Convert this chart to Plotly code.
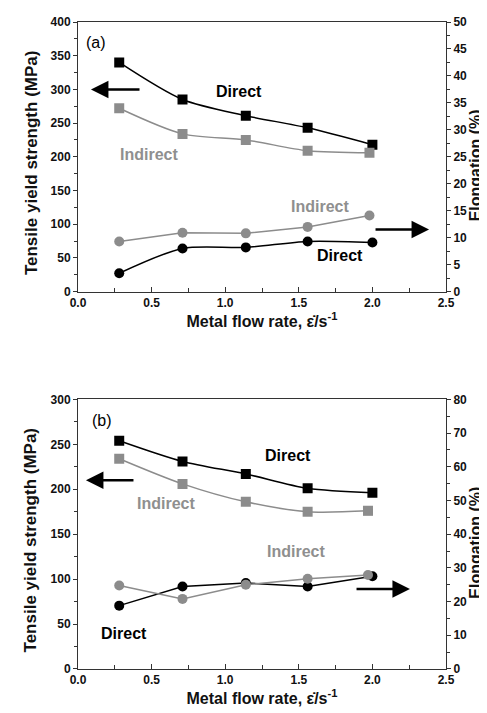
import plotly.graph_objects as go

# ---------------- data ----------------
# panel (a)
a_x_direct = [0.28, 0.71, 1.14, 1.56, 2.00]
a_x_indirect = [0.28, 0.71, 1.14, 1.56, 1.98]
a_ys_direct = [340, 285, 261, 243, 218]
a_ys_indirect = [272, 234, 225, 209, 206]
a_el_direct = [3.4, 8.0, 8.2, 9.3, 9.1]
a_el_indirect = [9.3, 10.9, 10.8, 12.0, 14.1]

# panel (b)
b_x_direct = [0.28, 0.71, 1.14, 1.56, 2.00]
b_x_indirect = [0.28, 0.71, 1.14, 1.56, 1.97]
b_ys_direct = [254, 231, 217, 201, 196]
b_ys_indirect = [234, 206, 186, 175, 176]
b_el_direct = [18.8, 24.5, 25.5, 24.5, 27.5]
b_el_indirect = [24.8, 20.8, 25.0, 26.8, 27.9]

x_ticks = [0.0, 0.5, 1.0, 1.5, 2.0, 2.5]
x_tick_labels = ["0.0", "0.5", "1.0", "1.5", "2.0", "2.5"]

BLACK = "#000000"
GRAY = "#8c8c8c"
AXC = "#333333"
FAM = "Liberation Sans, Arial, sans-serif"
TICKFONT = dict(family=FAM, size=12, color="#111111", weight="bold")
YTITLEFONT = dict(family=FAM, size=17, color="#111111", weight="bold")
RTITLEFONT = dict(family=FAM, size=16, color="#111111", weight="bold")
XTITLEFONT = dict(family=FAM, size=16, color="#111111", weight="bold")
LBLFONT_B = dict(family=FAM, size=16, color=BLACK, weight="bold")
LBLFONT_G = dict(family=FAM, size=16, color="#8f8f8f", weight="bold")

fig = go.Figure()


def add_series(x, y, xa, ya, symbol, color, shape):
    fig.add_trace(go.Scatter(
        x=x, y=y, xaxis=xa, yaxis=ya, mode="lines+markers",
        line=dict(color=color, width=1.5, shape=shape, smoothing=0.8),
        marker=dict(symbol=symbol, size=10, color=color, line=dict(width=0)),
        showlegend=False, hoverinfo="x+y"))


# panel (a)
add_series(a_x_direct, a_ys_direct, "x", "y", "square", BLACK, "spline")
add_series(a_x_indirect, a_ys_indirect, "x", "y", "square", GRAY, "spline")
add_series(a_x_direct, a_el_direct, "x", "y2", "circle", BLACK, "spline")
add_series(a_x_indirect, a_el_indirect, "x", "y2", "circle", GRAY, "linear")
# panel (b)
add_series(b_x_direct, b_ys_direct, "x2", "y3", "square", BLACK, "spline")
add_series(b_x_indirect, b_ys_indirect, "x2", "y3", "square", GRAY, "spline")
add_series(b_x_direct, b_el_direct, "x2", "y4", "circle", BLACK, "linear")
add_series(b_x_indirect, b_el_indirect, "x2", "y4", "circle", GRAY, "linear")

xtitle = "Metal flow rate, \u03b5\u0307/s<sup>-1</sup>"


def xaxis_cfg(anchor):
    return dict(range=[0, 2.5], tickvals=x_ticks, ticktext=x_tick_labels, anchor=anchor,
                showline=True, linecolor=AXC, linewidth=1, mirror=True,
                ticks="inside", ticklen=5, tickcolor=AXC,
                minor=dict(ticks="inside", ticklen=4, dtick=0.25, tickcolor=AXC),
                showgrid=False, zeroline=False, tickfont=TICKFONT, automargin=False,
                title=dict(text=xtitle, font=XTITLEFONT, standoff=6))


def yleft_cfg(rng, dt, mdt, domain, anchor):
    return dict(range=rng, dtick=dt, domain=domain, anchor=anchor,
                showline=True, linecolor=AXC, linewidth=1,
                ticks="outside", ticklen=4, tickcolor=AXC,
                minor=dict(ticks="outside", ticklen=3, dtick=mdt, tickcolor=AXC),
                showgrid=False, zeroline=False, tickfont=TICKFONT, automargin=False)


def yright_cfg(rng, dt, mdt, overlay, anchor):
    return dict(range=rng, dtick=dt, overlaying=overlay, side="right", anchor=anchor,
                showline=True, linecolor=AXC, linewidth=1,
                ticks="outside", ticklen=4, tickcolor=AXC,
                minor=dict(ticks="outside", ticklen=3, dtick=mdt, tickcolor=AXC),
                showgrid=False, zeroline=False, tickfont=TICKFONT, automargin=False)


fig.update_layout(
    width=487, height=713,
    margin=dict(l=70, r=49, t=14, b=52, autoexpand=False),
    paper_bgcolor="white", plot_bgcolor="white",
    xaxis=xaxis_cfg("y"),
    xaxis2=xaxis_cfg("y3"),
    yaxis=yleft_cfg([0, 400], 50, 25, [0.5833, 1.0], "x"),
    yaxis2=yright_cfg([0, 50], 5, 2.5, "y", "x"),
    yaxis3=yleft_cfg([0, 300], 50, 25, [0.0, 0.4167], "x2"),
    yaxis4=yright_cfg([0, 80], 10, 5, "y3", "x2"),
)

annots = []


def label(text, x, y, xr, yr, font, angle=0):
    annots.append(dict(text=text, x=x, y=y, xref=xr, yref=yr, showarrow=False,
                       font=font, xanchor="center", yanchor="middle", textangle=angle))


def arrow(x0, x1, y, xr, yr):
    annots.append(dict(text="", x=x1, y=y, ax=x0, ay=y, xref=xr, yref=yr,
                       axref=xr, ayref=yr, showarrow=True, arrowhead=2,
                       arrowsize=1.4, arrowwidth=2.5, arrowcolor=BLACK))


# y-axis titles (paper x: (px - 70) / 368)
for dom_ref in ("y domain", "y3 domain"):
    label("Tensile yield strength (MPa)", -0.128, 0.48, "paper", dom_ref, YTITLEFONT, -90)
    label("Elongation (%)", 1.08, 0.47, "paper", dom_ref, RTITLEFONT, -90)

# panel (a)
label("(a)", 0.122, 369, "x", "y", dict(family=FAM, size=16, color=BLACK))
label("Direct", 1.094, 297, "x", "y", LBLFONT_B)
label("Indirect", 0.482, 204, "x", "y", LBLFONT_G)
label("Indirect", 1.644, 126, "x", "y", LBLFONT_G)
label("Direct", 1.78, 54, "x", "y", LBLFONT_B)
arrow(0.428, 0.088, 300, "x", "y")
arrow(2.011, 2.385, 92, "x", "y")
# panel (b)
label("(b)", 0.163, 276, "x2", "y3", dict(family=FAM, size=16, color=BLACK))
label("Direct", 1.427, 238, "x2", "y3", LBLFONT_B)
label("Indirect", 0.598, 184, "x2", "y3", LBLFONT_G)
label("Indirect", 1.481, 131, "x2", "y3", LBLFONT_G)
label("Direct", 0.3125, 40, "x2", "y3", LBLFONT_B)
arrow(0.387, 0.054, 210, "x2", "y3")
arrow(1.882, 2.255, 89, "x2", "y3")

fig.update_layout(annotations=annots)

fig.write_html("out.html")
